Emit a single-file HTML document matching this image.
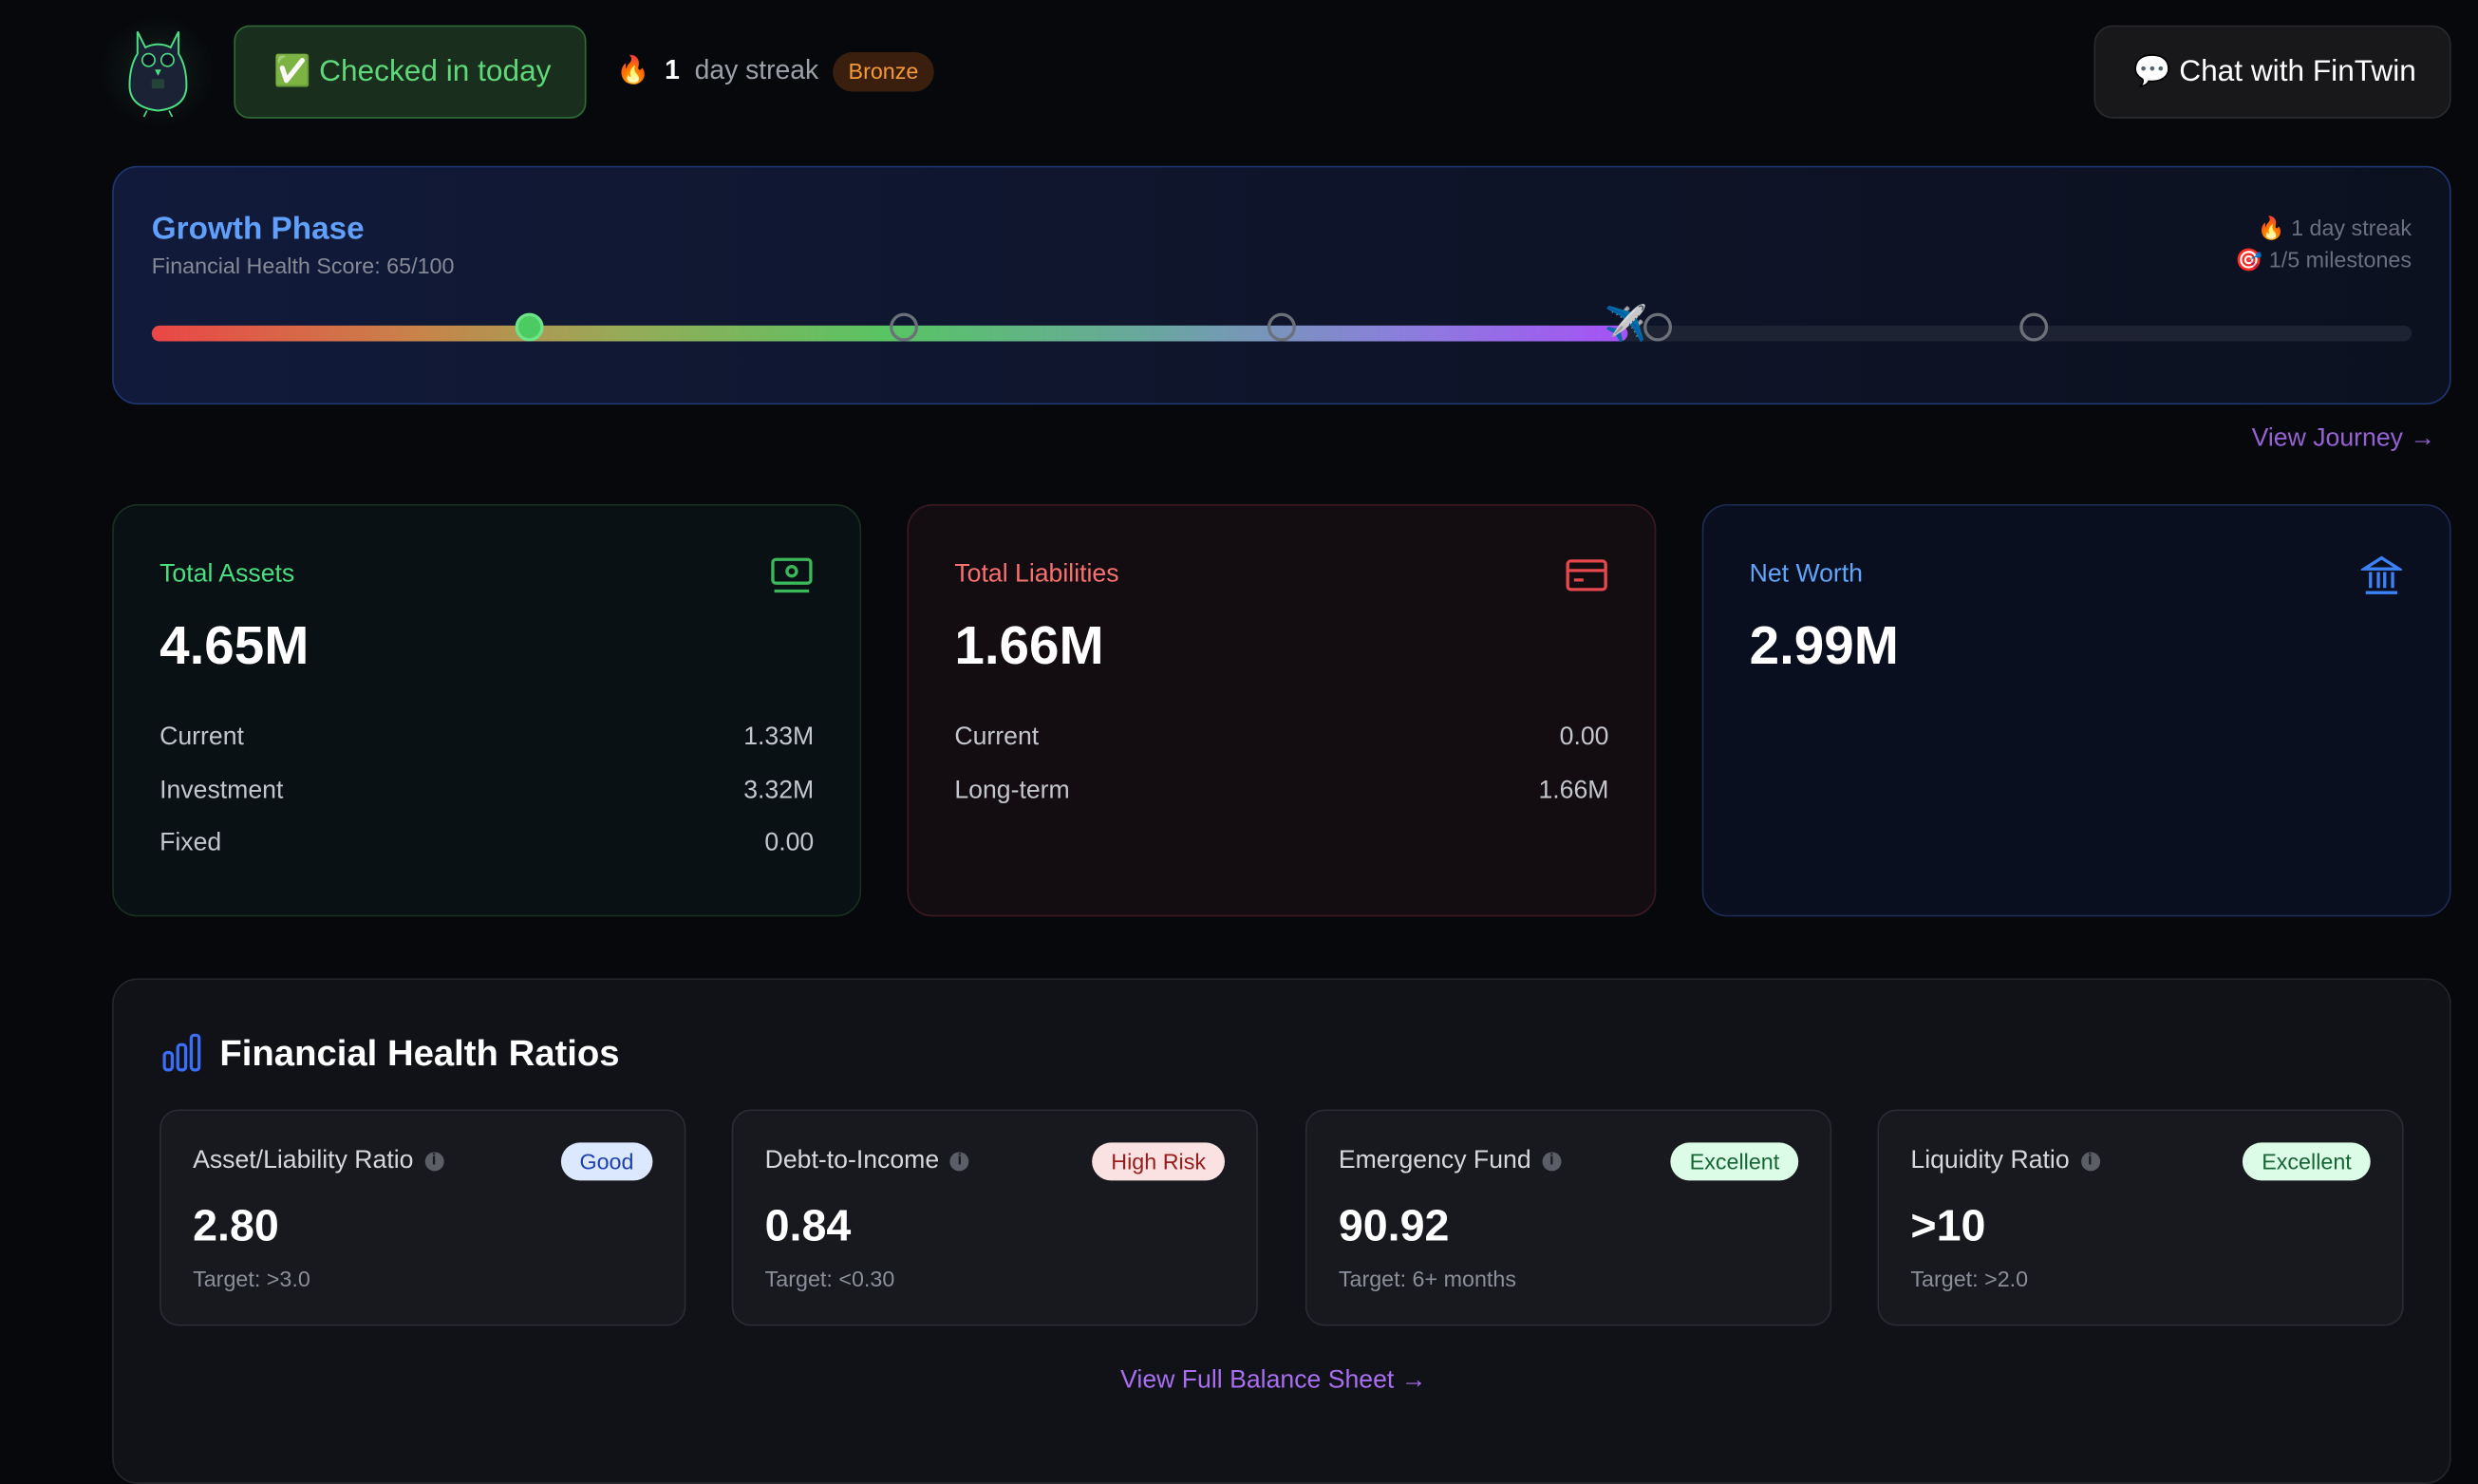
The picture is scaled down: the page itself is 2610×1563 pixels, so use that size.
<!DOCTYPE html>
<html><head><meta charset="utf-8"><style>
*{margin:0;padding:0;box-sizing:border-box}
html,body{width:2610px;height:1516px;overflow:hidden;background:#07080c}
#s{position:absolute;left:0;top:0;width:1568px;height:911px;transform:scale(1.6645);transform-origin:0 0;font-family:"Liberation Sans",sans-serif;color:#fff}
.a{position:absolute;white-space:nowrap}
.card{position:absolute;border-radius:16px;border:1px solid}
.lbl{position:absolute;left:29px;top:35px;font-size:16px}
.big{position:absolute;left:29px;top:70px;font-size:34px;font-weight:bold}
.row{position:absolute;left:29px;right:29px;font-size:16px;color:#c3c6cc;display:flex;justify-content:space-between}
.sc{position:absolute;top:702px;width:333px;height:137px;background:#18191e;border:1px solid #2a2c33;border-radius:12px}
.st{position:absolute;left:20px;top:23px;font-size:16px;color:#d6d8dd;display:flex;align-items:center}
.i{display:inline-block;width:12px;height:12px;border-radius:50%;background:#5b5e66;color:#18191e;font-size:10px;font-weight:bold;text-align:center;line-height:12px;margin-left:7px}
.bd{position:absolute;right:20px;top:20px;height:24px;line-height:24px;padding:0 12px;border-radius:12px;font-size:14px}
.sv{position:absolute;left:20px;top:57px;font-size:28px;font-weight:bold}
.tg{position:absolute;left:20px;top:98px;font-size:14px;color:#8b8f9a}
.dot{position:absolute;top:198px;width:18px;height:18px;border-radius:50%;border:2px solid #6b7079;background:#111628}
</style></head><body><div id="s">
<div class="a" style="left:62px;top:10px;width:76px;height:70px;border-radius:50%;background:radial-gradient(circle,#13221e 0%,rgba(7,8,12,0) 70%)"></div>
<svg class="a" style="left:78px;top:18px" width="44" height="56" viewBox="0 0 44 56"><path d="M9 2 L14 12 Q22 8 30 12 L35 2 L35 16 Q40 24 40 36 Q40 50 22 52 Q4 50 4 36 Q4 24 9 16 Z" fill="#1c2236" stroke="#4ade80" stroke-width="1.2"/><circle cx="16" cy="20" r="4" fill="#0d1020" stroke="#4ade80"/><circle cx="28" cy="20" r="4" fill="#0d1020" stroke="#4ade80"/><path d="M20 26 L22 30 L24 26Z" fill="#4ade80"/><rect x="18" y="32" width="8" height="6" rx="1" fill="#24443a"/><path d="M15 52 L13 56 M29 52 L31 56" stroke="#4ade80"/></svg>
<div class="a" style="left:148px;top:16px;width:223px;height:59px;border-radius:10px;background:#1a2e1e;border:1px solid #2f6a36;color:#5fd879;font-size:19px;line-height:58px;padding-left:24px">✅ Checked in today</div>
<div class="a" style="left:390px;top:35px;font-size:17px;color:#9ca0a8">🔥 &nbsp;<b style="color:#fff">1</b>&nbsp; day streak</div>
<div class="a" style="left:527px;top:33px;width:64px;height:25px;border-radius:13px;background:#3a1f0e;color:#f59a3a;font-size:14px;line-height:25px;text-align:center">Bronze</div>
<div class="a" style="left:1325px;top:16px;width:226px;height:59px;border-radius:12px;background:#18181b;border:1px solid #2a2a2e;font-size:19px;line-height:58px;padding-left:24px">💬 Chat with FinTwin</div>
<div class="card" style="left:71px;top:105px;width:1480px;height:151px;background:linear-gradient(90deg,#111a3a,#0e1428 60%,#0c1120);border-color:#1f3770"></div>
<div class="a" style="left:96px;top:134px;font-size:20px;font-weight:bold;color:#60a0fa">Growth Phase</div>
<div class="a" style="left:96px;top:160px;font-size:14px;color:#858a96">Financial Health Score: 65/100</div>
<div class="a" style="right:42px;top:135px;font-size:14px;color:#6b7080;text-align:right;line-height:19.5px">🔥 1 day streak<br>🎯 1/5 milestones</div>
<div class="a" style="left:96px;top:206px;width:1430px;height:10px;border-radius:5px;background:#1e2333"></div>
<div class="a" style="left:96px;top:206px;width:934px;height:10px;border-radius:5px;background:linear-gradient(90deg,#ea4646,#c8834a 18%,#96ab58 32%,#58c464 50%,#6aa6a0 68%,#8a80da 84%,#a552f5)"></div>
<div class="dot" style="left:326px;background:#4ccb63;border-color:#6ee488"></div>
<div class="dot" style="left:563px;background:transparent"></div>
<div class="dot" style="left:802px;background:transparent"></div>
<div class="dot" style="left:1040px;background:transparent"></div>
<div class="dot" style="left:1278px;background:transparent"></div>
<div class="a" style="left:1015px;top:192px;font-size:22px">✈️</div>
<div class="a" style="right:27px;top:269px;font-size:16px;color:#9562d4">View Journey →</div>
<div class="card" style="left:71px;top:319px;width:474px;height:261px;background:#0a1114;border-color:#16301f">
<div class="lbl" style="color:#4ade80">Total Assets</div>
<svg class="a" style="left:415px;top:32px" width="28" height="24" viewBox="0 0 28 24" fill="none" stroke="#3bb85a" stroke-width="2"><rect x="2" y="2" width="24" height="15" rx="2"/><circle cx="14" cy="9.5" r="3"/><path d="M3 22 L25 22"/></svg>
<div class="big">4.65M</div>
<div class="row" style="top:138px"><span>Current</span><span>1.33M</span></div>
<div class="row" style="top:172px"><span>Investment</span><span>3.32M</span></div>
<div class="row" style="top:205px"><span>Fixed</span><span>0.00</span></div>
</div>
<div class="card" style="left:574px;top:319px;width:474px;height:261px;background:#130d12;border-color:#3a1a20">
<div class="lbl" style="color:#f87171">Total Liabilities</div>
<svg class="a" style="left:415px;top:33px" width="28" height="22" viewBox="0 0 28 22" fill="none" stroke="#e5484d" stroke-width="2"><rect x="2" y="2" width="24" height="18" rx="2"/><path d="M2 8 H26 M6 14 H12"/></svg>
<div class="big">1.66M</div>
<div class="row" style="top:138px"><span>Current</span><span>0.00</span></div>
<div class="row" style="top:172px"><span>Long-term</span><span>1.66M</span></div>
</div>
<div class="card" style="left:1077px;top:319px;width:474px;height:261px;background:#0a0f1f;border-color:#1c2b50">
<div class="lbl" style="color:#60a5fa">Net Worth</div>
<svg class="a" style="left:416px;top:31px" width="26" height="26" viewBox="0 0 26 26" fill="none" stroke="#3b82f6" stroke-width="2"><path d="M2 9 L13 2 L24 9 Z M3 24 H23 M6 11 V21 M11 11 V21 M15 11 V21 M20 11 V21"/></svg>
<div class="big">2.99M</div>
</div>
<div class="card" style="left:71px;top:619px;width:1480px;height:320px;background:#111217;border-color:#23252b"></div>
<svg class="a" style="left:103px;top:654px" width="24" height="24" viewBox="0 0 24 24" fill="none" stroke="#3b6ef6" stroke-width="2"><rect x="1" y="12" width="5" height="11" rx="2"/><rect x="9.5" y="7" width="5" height="16" rx="2"/><rect x="18" y="1" width="5" height="22" rx="2"/></svg>
<div class="a" style="left:139px;top:653px;font-size:23px;font-weight:bold">Financial Health Ratios</div>
<div class="sc" style="left:101px"><div class="st">Asset/Liability Ratio<span class="i">i</span></div><div class="bd" style="background:#dbe8fe;color:#1e40af">Good</div><div class="sv">2.80</div><div class="tg">Target: &gt;3.0</div></div>
<div class="sc" style="left:463px"><div class="st">Debt-to-Income<span class="i">i</span></div><div class="bd" style="background:#fbe2e2;color:#991b1b">High Risk</div><div class="sv">0.84</div><div class="tg">Target: &lt;0.30</div></div>
<div class="sc" style="left:826px"><div class="st">Emergency Fund<span class="i">i</span></div><div class="bd" style="background:#dcfce7;color:#166534">Excellent</div><div class="sv">90.92</div><div class="tg">Target: 6+ months</div></div>
<div class="sc" style="left:1188px"><div class="st">Liquidity Ratio<span class="i">i</span></div><div class="bd" style="background:#dcfce7;color:#166534">Excellent</div><div class="sv">&gt;10</div><div class="tg">Target: &gt;2.0</div></div>
<div class="a" style="left:709px;top:865px;font-size:16px;color:#a86ef0">View Full Balance Sheet →</div>
</div></body></html>
